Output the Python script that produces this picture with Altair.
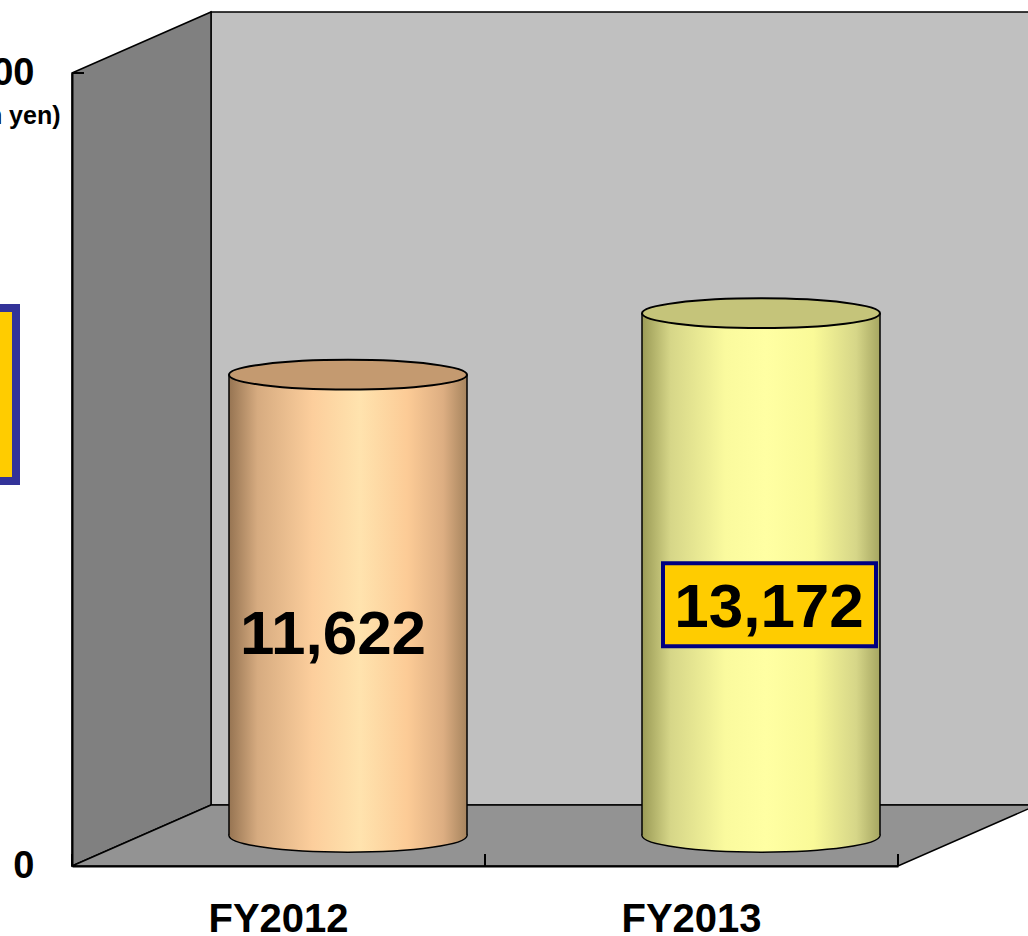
import altair as alt
import pandas as pd

# ---- data ----
categories = ["FY2012", "FY2013"]
values = [11622, 13172]
y_ticks = [0, 20000]
y_title = "(100 million yen)"

df = pd.DataFrame({"cat": categories, "value": values})

# ---- geometry / style ----
FONT = "Liberation Sans"
W, H = 826, 793            # front plot area
DX, DY = 139, -61          # depth offset of the 3D box
MX, MY = DX / 2, DY / 2    # cylinders sit at mid depth
BW = 238                   # cylinder width
PAD_IN = 1 - BW / (W / 2)

def ellipse(b):
    k = 0.5523
    return (f"M-1,0C-1,{-k*b:.4f} {-k:.4f},{-b} 0,{-b}"
            f"C{k:.4f},{-b} 1,{-k*b:.4f} 1,0"
            f"C1,{k*b:.4f} {k:.4f},{b} 0,{b}"
            f"C{-k:.4f},{b} -1,{k*b:.4f} -1,0Z")

def grad(stops):
    return alt.Gradient(gradient="linear", x1=0, x2=1, y1=0, y2=0,
                        stops=[alt.GradientStop(offset=o, color=c) for o, c in stops])

body_stops = [
    [(0, "#967452"), (0.12, "#D6AB80"), (0.35, "#FCCE9C"), (0.55, "#FFE3AE"),
     (0.75, "#FCCB96"), (0.9, "#DDAE82"), (1, "#A6845E")],
    [(0, "#9A9A56"), (0.12, "#D6D688"), (0.35, "#FAFA9E"), (0.52, "#FFFFA3"),
     (0.72, "#FAFA98"), (0.9, "#D6D688"), (1, "#A6A662")],
]
cap_colors = ["#C49A70", "#C5C47A"]

x_axis = alt.Axis(title=None, labelFont=FONT, labelFontSize=40, labelFontWeight="bold",
                  labelColor="black", labelPadding=33, labelAngle=0, ticks=False, tickSize=0,
                  domainColor="black", domainWidth=2, zindex=1)
y_axis = alt.Axis(title=y_title, values=y_ticks, format=",.0f", grid=False,
                  labelFont=FONT, labelFontSize=38, labelFontWeight="bold", labelColor="black",
                  labelPadding=38, ticks=False, tickSize=0, domainColor="black", domainWidth=2,
                  titleFont=FONT, titleFontSize=25, titleFontWeight="bold", titleColor="black",
                  titleAngle=0, titleAlign="right", titleBaseline="middle",
                  titleX=-12, titleY=42, zindex=1)

x_scale = alt.Scale(domain=categories, paddingInner=PAD_IN, paddingOuter=PAD_IN / 2)
y_scale = alt.Scale(domain=[0, 20000], nice=False, zero=True)

def X():
    return alt.X("cat:N", scale=x_scale, axis=x_axis)

def Y(field):
    return alt.Y(f"{field}:Q", scale=y_scale, axis=y_axis)

base = alt.Chart(df).transform_calculate(zero="0", half="datum.value / 2")
dummy = alt.Data(values=[{"k": 1}])

layers = []

# ---- 3D frame ----
layers.append(alt.Chart(dummy).mark_rect(fill="#C0C0C0", stroke="black", strokeWidth=1.5).encode(
    x=alt.value(DX), x2=alt.value(W + DX), y=alt.value(DY), y2=alt.value(H + DY)))
side_path = f"M0,0L{DX},{DY}L{DX},{H+DY}L0,{H}Z"
floor_path = f"M0,{H}L{DX},{H+DY}L{W+DX},{H+DY}L{W},{H}Z"
layers.append(alt.Chart(dummy).mark_point(shape=side_path, size=4, filled=True, fill="#808080",
                                          stroke="black", strokeWidth=1.5, opacity=1).encode(
    x=alt.value(0), y=alt.value(0)))
layers.append(alt.Chart(dummy).mark_point(shape=floor_path, size=4, filled=True, fill="#939393",
                                          stroke="black", strokeWidth=1.5, opacity=1).encode(
    x=alt.value(0), y=alt.value(0)))
for tx in [0, W / 2, W]:
    layers.append(alt.Chart(dummy).mark_rule(color="black", strokeWidth=2).encode(
        x=alt.value(tx), y=alt.value(H - 12), y2=alt.value(H)))
layers.append(alt.Chart(dummy).mark_rule(color="black", strokeWidth=2).encode(
    x=alt.value(0), x2=alt.value(12), y=alt.value(0)))

# ---- cylinders ----
for i, c in enumerate(categories):
    b = base.transform_filter(alt.datum.cat == c)
    g = grad(body_stops[i])
    layers.append(b.mark_point(shape=ellipse(0.14), size=BW ** 2, filled=True, fill=g,
                               stroke="black", strokeWidth=1.5, opacity=1,
                               xOffset=MX, yOffset=MY).encode(x=X(), y=Y("zero")))
    layers.append(b.mark_bar(fill=g, xOffset=MX, x2Offset=MX, yOffset=MY, y2Offset=MY).encode(
        x=X(), y=Y("value"), y2=alt.Y2("zero")))
    for side in (-1, 1):
        layers.append(b.mark_rule(color="black", strokeWidth=1.5,
                                  xOffset=MX + side * BW / 2, yOffset=MY, y2Offset=MY).encode(
            x=X(), y=Y("value"), y2=alt.Y2("zero")))
    layers.append(b.mark_point(shape=ellipse(0.125), size=BW ** 2, filled=True, fill=cap_colors[i],
                               stroke="black", strokeWidth=2, opacity=1,
                               xOffset=MX, yOffset=MY).encode(x=X(), y=Y("value")))

# ---- value labels ----
b0 = base.transform_filter(alt.datum.cat == categories[0])
layers.append(b0.mark_text(font=FONT, fontSize=62, fontWeight="bold", color="black",
                           baseline="alphabetic", align="center", xOffset=54.5, yOffset=18).encode(
    x=X(), y=Y("half"), text=alt.Text("value:Q", format=",")))
b1 = base.transform_filter(alt.datum.cat == categories[1])
layers.append(b1.mark_point(shape="M-1,-0.3897L1,-0.3897L1,0.3897L-1,0.3897Z", size=213 ** 2,
                            filled=True, fill="#FFCC00", stroke="#000080", strokeWidth=4,
                            opacity=1, xOffset=78, yOffset=0).encode(x=X(), y=Y("half")))
layers.append(b1.mark_text(font=FONT, fontSize=62, fontWeight="bold", color="black",
                           baseline="alphabetic", align="center", xOffset=77.5, yOffset=22).encode(
    x=X(), y=Y("half"), text=alt.Text("value:Q", format=",")))

# ---- partially visible highlight box at the left edge ----
layers.append(alt.Chart(dummy).mark_rect(fill="#FFCC00", stroke="#333399", strokeWidth=8).encode(
    x=alt.value(-172), x2=alt.value(-56), y=alt.value(235), y2=alt.value(408)))

chart = alt.layer(*layers).properties(
    width=W, height=H,
    padding={"left": 72, "top": 73, "right": 1028 - 72 - W, "bottom": 936 - 73 - H},
    autosize=alt.AutoSizeParams(type="none"),
    background="white",
).configure_view(strokeWidth=0)

chart.save("out.html", embed_options={"renderer": "svg", "actions": False})
